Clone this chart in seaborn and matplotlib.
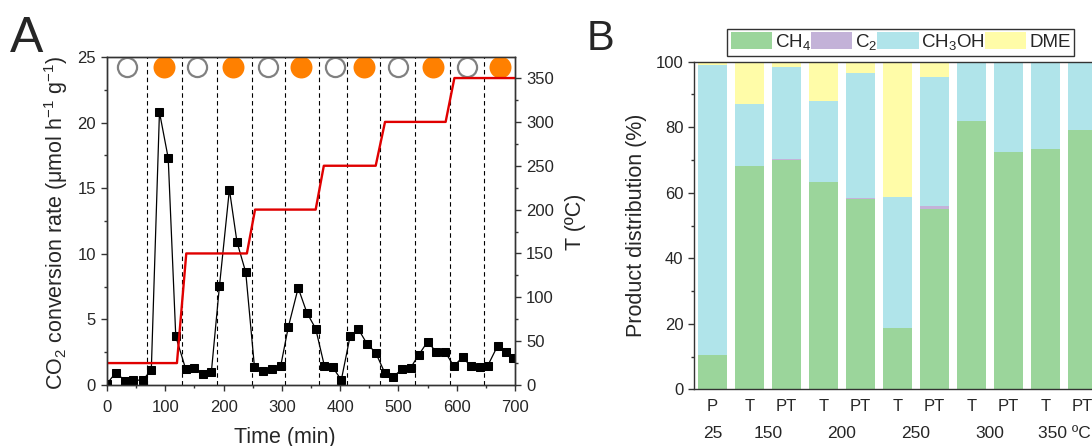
import matplotlib
matplotlib.use("Agg")
import matplotlib.pyplot as plt
import matplotlib.transforms as mtransforms
from matplotlib.patches import Patch
from matplotlib.ticker import MultipleLocator
import numpy as np
import seaborn as sns

# ---- panel A data ----
time_min = [0, 15, 31, 45, 61, 76, 90, 105, 118, 135, 149, 165, 179, 193, 210, 223,
            238, 253, 268, 283, 298, 311, 328, 343, 358, 373, 387, 402, 417, 431,
            446, 461, 477, 491, 506, 521, 535, 550, 565, 580, 595, 610, 624, 640,
            653, 670, 684, 697]
co2_rate = [0.1, 0.94, 0.33, 0.38, 0.36, 1.14, 20.8, 17.3, 3.7, 1.22, 1.32, 0.84,
            0.97, 7.57, 14.9, 10.9, 8.6, 1.37, 1.07, 1.24, 1.45, 4.4, 7.4, 5.5, 4.3,
            1.45, 1.37, 0.38, 3.7, 4.27, 3.15, 2.46, 0.89, 0.63, 1.2, 1.32, 2.31,
            3.3, 2.52, 2.52, 1.45, 2.11, 1.45, 1.37, 1.45, 2.97, 2.52, 2.06]
temp_time = [0, 120, 136, 240, 254, 358, 372, 461, 477, 581, 596, 700]
temp_c = [25, 25, 150, 150, 200, 200, 250, 250, 300, 300, 350, 350]
switch_times = [68, 128, 188, 248, 305, 364, 411, 468, 529, 588, 647]
dark_times = [34, 155, 277, 391, 500, 618]
light_times = [97, 217, 333, 441, 560, 674]

# ---- panel B data ----
bar_labels = ["P", "T", "PT", "T", "PT", "T", "PT", "T", "PT", "T", "PT"]
temp_groups = ["25", "150", "200", "250", "300", "350 ºC"]
group_pos = [0, 1.5, 3.5, 5.5, 7.5, 9.5]
ch4 = [10.5, 68.3, 70.0, 63.2, 58.1, 18.7, 55.0, 81.8, 72.3, 73.5, 79.0]
c2 = [0.0, 0.0, 0.3, 0.0, 0.3, 0.0, 0.8, 0.0, 0.0, 0.0, 0.0]
ch3oh = [88.6, 18.8, 28.0, 24.9, 38.0, 39.9, 39.4, 18.2, 27.7, 26.5, 21.0]
dme = [0.9, 12.9, 1.7, 11.9, 3.6, 41.4, 4.8, 0.0, 0.0, 0.0, 0.0]

products = ["CH$_4$", "C$_2$", "CH$_3$OH", "DME"]
colors = ["#9bd59b", "#c3b2d8", "#b0e4ea", "#fffca8"]

sns.set_style("ticks")
plt.rcParams["font.family"] = ["Liberation Sans", "DejaVu Sans"]
plt.rcParams["mathtext.fontset"] = "custom"
plt.rcParams["mathtext.rm"] = "Liberation Sans"
plt.rcParams["mathtext.default"] = "regular"
plt.rcParams["axes.edgecolor"] = "#333333"
plt.rcParams["axes.linewidth"] = 1.0

fig = plt.figure(figsize=(10.92, 4.46), dpi=100)
W, H = 1092, 446
label_size = 15.5

# ================= panel A =================
ax = fig.add_axes([107 / W, (H - 385) / H, 408 / W, 328 / H])
for t in switch_times:
    ax.axvline(t, color="black", lw=0.8, ls=(0, (4, 3)), zorder=1)

sns.lineplot(x=time_min, y=co2_rate, ax=ax, color="black", lw=0.9, marker="s",
             markersize=6, markeredgecolor="black", estimator=None, zorder=3)
sns.scatterplot(x=dark_times, y=[24.2] * len(dark_times), ax=ax, s=190,
                facecolor="white", edgecolor="#808080", linewidth=1.6, zorder=4)
sns.scatterplot(x=light_times, y=[24.2] * len(light_times), ax=ax, s=250,
                color="#ff8000", linewidth=0, zorder=4)

ax.set_xlim(0, 700)
ax.set_ylim(0, 25)
ax.xaxis.set_major_locator(MultipleLocator(100))
ax.xaxis.set_minor_locator(MultipleLocator(50))
ax.yaxis.set_major_locator(MultipleLocator(5))
ax.yaxis.set_minor_locator(MultipleLocator(2.5))
ax.tick_params(which="major", length=4, width=1, labelsize=12, pad=4, color="#333333")
ax.tick_params(which="minor", length=2.5, width=1, color="#333333")
ax.tick_params(axis="x", which="both", top=False, pad=7)
ax.set_xlabel("Time (min)", fontsize=label_size)
ax.set_ylabel("CO$_2$ conversion rate (μmol h$^{-1}$ g$^{-1}$)", fontsize=label_size)
ax.xaxis.set_label_coords(0.436, -0.128)
ax.yaxis.set_label_coords(-0.091, 0.494)

ax2 = ax.twinx()
sns.lineplot(x=temp_time, y=temp_c, ax=ax2, color="#e00000", lw=1.7, estimator=None)
ax2.set_ylim(0, 374)
ax2.yaxis.set_major_locator(MultipleLocator(50))
ax2.yaxis.set_minor_locator(MultipleLocator(25))
ax2.tick_params(which="major", length=4, width=1, labelsize=12, pad=4, color="#333333")
ax2.tick_params(which="minor", length=2.5, width=1, color="#333333")
ax2.set_ylabel("T (ºC)", fontsize=label_size)
ax2.yaxis.set_label_coords(1.122, 0.497)

# ================= panel B =================
bx = fig.add_axes([694 / W, (H - 389.3) / H, 407 / W, 327.6 / H])
stack = np.array([ch4, c2, ch3oh, dme])
tops = np.cumsum(stack, axis=0)
positions = np.arange(len(bar_labels))
for i in range(len(products) - 1, -1, -1):
    sns.barplot(x=positions, y=tops[i], ax=bx, color=colors[i], width=0.81,
                saturation=1, linewidth=0, native_scale=True)

bx.set_xlim(-0.5, 10.5)
bx.set_ylim(0, 100)
bx.set_xticks(positions, bar_labels)
bx.yaxis.set_major_locator(MultipleLocator(20))
bx.yaxis.set_minor_locator(MultipleLocator(10))
bx.tick_params(axis="x", length=0, labelsize=12, pad=7)
bx.tick_params(axis="y", which="major", length=4, width=1, labelsize=12, color="#333333")
bx.tick_params(axis="y", which="minor", length=2.5, width=1, color="#333333")
bx.set_xlabel("")
bx.set_ylabel("Product distribution (%)", fontsize=label_size)
bx.yaxis.set_label_coords(-0.115, 0.5)

trans = mtransforms.blended_transform_factory(bx.transData, bx.transAxes)
for p, g in zip(group_pos, temp_groups):
    bx.text(p, -0.135, g, transform=trans, ha="center", va="center", fontsize=12.5)

handles = [Patch(facecolor=c, edgecolor="none", label=l) for c, l in zip(colors, products)]
leg = fig.legend(handles=handles, loc="lower left", ncol=4,
                 bbox_to_anchor=(727 / W, (H - 56) / H), fontsize=13.5,
                 frameon=True, fancybox=False, edgecolor="black",
                 handlelength=2.2, handleheight=1.0, handletextpad=0.15,
                 columnspacing=0.0, borderpad=0.2, borderaxespad=0)
leg.get_frame().set_linewidth(1.0)

fig.text(10 / W, 1 - 52 / H, "A", fontsize=36, va="baseline")
fig.text(587 / W, 1 - 50 / H, "B", fontsize=30, va="baseline")

fig.savefig("out.png", dpi=100)
